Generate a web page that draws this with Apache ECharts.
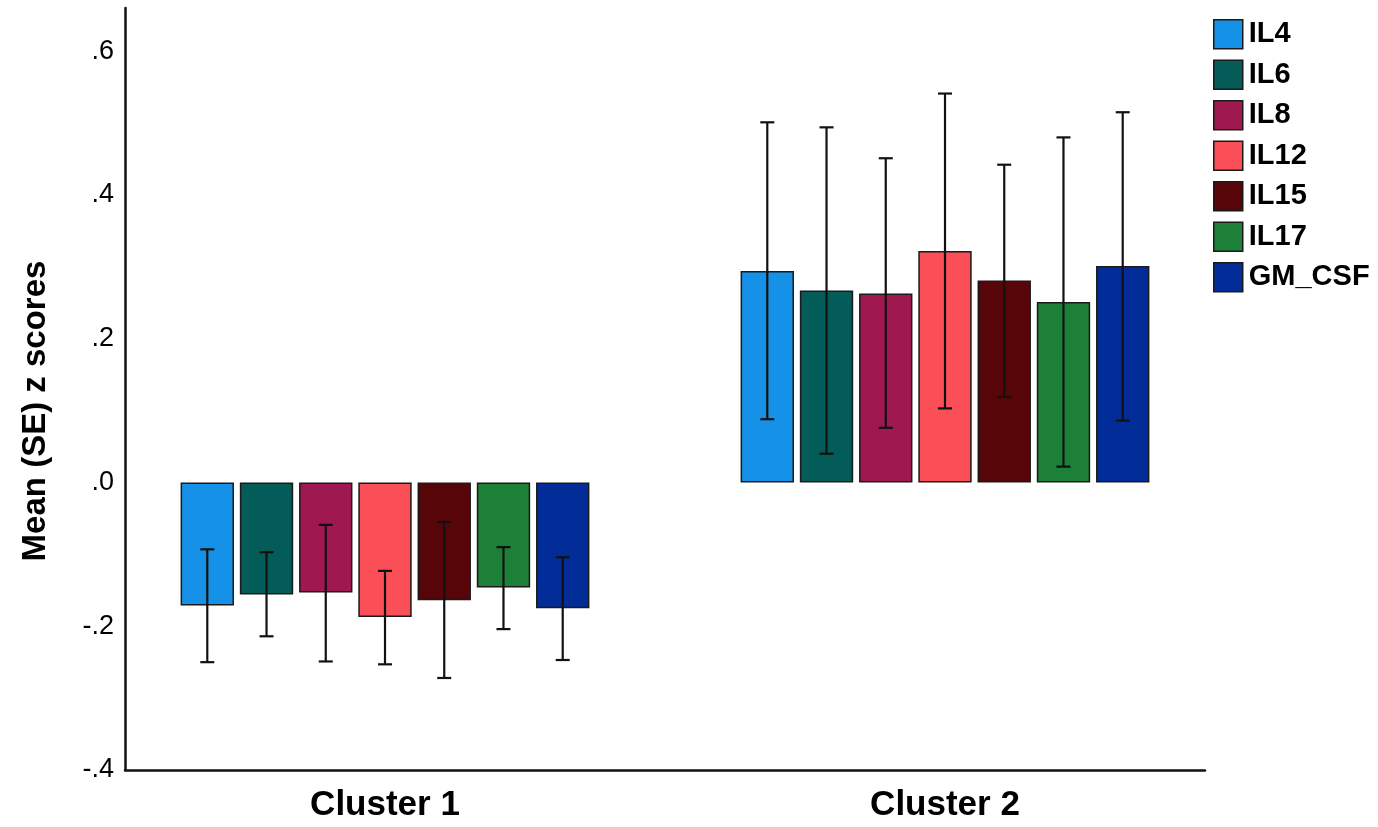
<!DOCTYPE html>
<html>
<head>
<meta charset="utf-8">
<script src="https://cdn.jsdelivr.net/npm/echarts@6/dist/echarts.min.js"></script>
<style>
html,body{margin:0;padding:0;background:#fff;}
#c{width:1378px;height:827px;}
</style>
</head>
<body>
<div id="c"></div>
<script>
var categories = ['Cluster 1', 'Cluster 2'];
var seriesNames = ['IL4', 'IL6', 'IL8', 'IL12', 'IL15', 'IL17', 'GM_CSF'];
var colors = ['#1591E8', '#035C58', '#A01850', '#FB4F57', '#58050A', '#1C8038', '#022C97'];
// means per variable: [Cluster 1, Cluster 2]
var IL4 = [-0.171, 0.294];
var IL6 = [-0.156, 0.267];
var IL8 = [-0.153, 0.263];
var IL12 = [-0.187, 0.322];
var IL15 = [-0.164, 0.281];
var IL17 = [-0.146, 0.251];
var GM_CSF = [-0.175, 0.301];
// SE error bar [low, high] per variable: [Cluster 1, Cluster 2]
var IL4_err = [[-0.250, -0.093], [0.088, 0.501]];
var IL6_err = [[-0.214, -0.097], [0.040, 0.494]];
var IL8_err = [[-0.249, -0.059], [0.076, 0.451]];
var IL12_err = [[-0.253, -0.123], [0.103, 0.541]];
var IL15_err = [[-0.272, -0.055], [0.119, 0.442]];
var IL17_err = [[-0.204, -0.090], [0.022, 0.480]];
var GM_CSF_err = [[-0.247, -0.104], [0.086, 0.515]];
var yTicks = [-0.4, -0.2, 0, 0.2, 0.4, 0.6];

var means = [IL4, IL6, IL8, IL12, IL15, IL17, GM_CSF];
var errs = [IL4_err, IL6_err, IL8_err, IL12_err, IL15_err, IL17_err, GM_CSF_err];

var CAT_GAP = 0.27, BAR_GAP = 0.11;
var nS = seriesNames.length;
var FONT = '"Liberation Sans", Arial, sans-serif';
var Y_MIN = -0.4, Y_MAX = 0.66;

function fmt(v) {
  var s = (Math.round(v * 10) / 10).toFixed(1);
  if (s === '0.0' || s === '-0.0') return '.0';
  return s.replace('0.', '.');
}

var series = [];
seriesNames.forEach(function (name, i) {
  series.push({
    name: name,
    type: 'bar',
    xAxisIndex: 0,
    yAxisIndex: 0,
    data: means[i],
    barCategoryGap: (CAT_GAP * 100) + '%',
    barGap: (BAR_GAP * 100) + '%',
    itemStyle: { color: colors[i], borderColor: '#1a1a1a', borderWidth: 1.5 },
    z: 2
  });
});
seriesNames.forEach(function (name, i) {
  series.push({
    type: 'custom',
    name: name + '_se',
    xAxisIndex: 0,
    yAxisIndex: 0,
    z: 5,
    silent: true,
    data: errs[i].map(function (e, k) { return [k, e[0], e[1]]; }),
    encode: { x: 0, y: [1, 2] },
    renderItem: function (params, api) {
      var k = api.value(0);
      var lo = api.coord([k, api.value(1)]);
      var hi = api.coord([k, api.value(2)]);
      var band = api.size([1, 0])[0];
      var group = band * (1 - CAT_GAP);
      var w = group / (nS + (nS - 1) * BAR_GAP);
      var x = lo[0] - group / 2 + i * w * (1 + BAR_GAP) + w / 2;
      var cap = 7;
      var st = { stroke: '#111', lineWidth: 2.2 };
      return {
        type: 'group',
        children: [
          { type: 'line', shape: { x1: x, y1: lo[1], x2: x, y2: hi[1] }, style: st },
          { type: 'line', shape: { x1: x - cap, y1: lo[1], x2: x + cap, y2: lo[1] }, style: st },
          { type: 'line', shape: { x1: x - cap, y1: hi[1], x2: x + cap, y2: hi[1] }, style: st }
        ]
      };
    }
  });
});

var chart = echarts.init(document.getElementById('c'));
chart.setOption({
  animation: false,
  backgroundColor: '#fff',
  grid: [
    { left: 105, right: 153, top: 8, bottom: 57 },
    { left: 125, right: 173, top: 8, bottom: 57 }
  ],
  legend: {
    data: seriesNames,
    orient: 'vertical',
    left: 1208,
    top: 14,
    icon: 'rect',
    itemWidth: 29,
    itemHeight: 29,
    itemGap: 10,
    itemStyle: { borderColor: '#1a1a1a', borderWidth: 1.5 },
    textStyle: { fontFamily: FONT, fontWeight: 'bold', fontSize: 29, lineHeight: 29, color: '#000', padding: [0, 0, 0, 1] }
  },
  xAxis: [
    {
      type: 'category',
      gridIndex: 0,
      data: categories,
      axisLine: { show: false },
      axisTick: { show: false },
      axisLabel: { fontFamily: FONT, fontWeight: 'bold', fontSize: 35, color: '#000', margin: 18 }
    },
    {
      type: 'category',
      gridIndex: 1,
      data: categories,
      axisLine: { onZero: false, lineStyle: { color: '#111', width: 2.5 } },
      axisTick: { show: false },
      axisLabel: { show: false }
    }
  ],
  yAxis: [
    {
      type: 'value',
      gridIndex: 0,
      min: Y_MIN,
      max: Y_MAX,
      interval: 0.2,
      show: false,
      splitLine: { show: false }
    },
    {
      type: 'value',
      gridIndex: 1,
      min: Y_MIN,
      max: Y_MAX,
      interval: 0.2,
      name: 'Mean (SE) z scores',
      nameLocation: 'middle',
      nameGap: 73,
      nameTextStyle: { fontFamily: FONT, fontWeight: 'bold', fontSize: 33, color: '#000', padding: [0, 44, 0, 0] },
      axisLine: { show: true, lineStyle: { color: '#111', width: 2.5 } },
      axisTick: { show: false },
      splitLine: { show: false },
      axisLabel: {
        fontFamily: FONT, fontSize: 27, color: '#000', margin: 11,
        showMaxLabel: false,
        formatter: function (v) {
          for (var t = 0; t < yTicks.length; t++) {
            if (Math.abs(v - yTicks[t]) < 1e-6) return fmt(yTicks[t]);
          }
          return '';
        }
      }
    }
  ],
  series: series
});
</script>
</body>
</html>
